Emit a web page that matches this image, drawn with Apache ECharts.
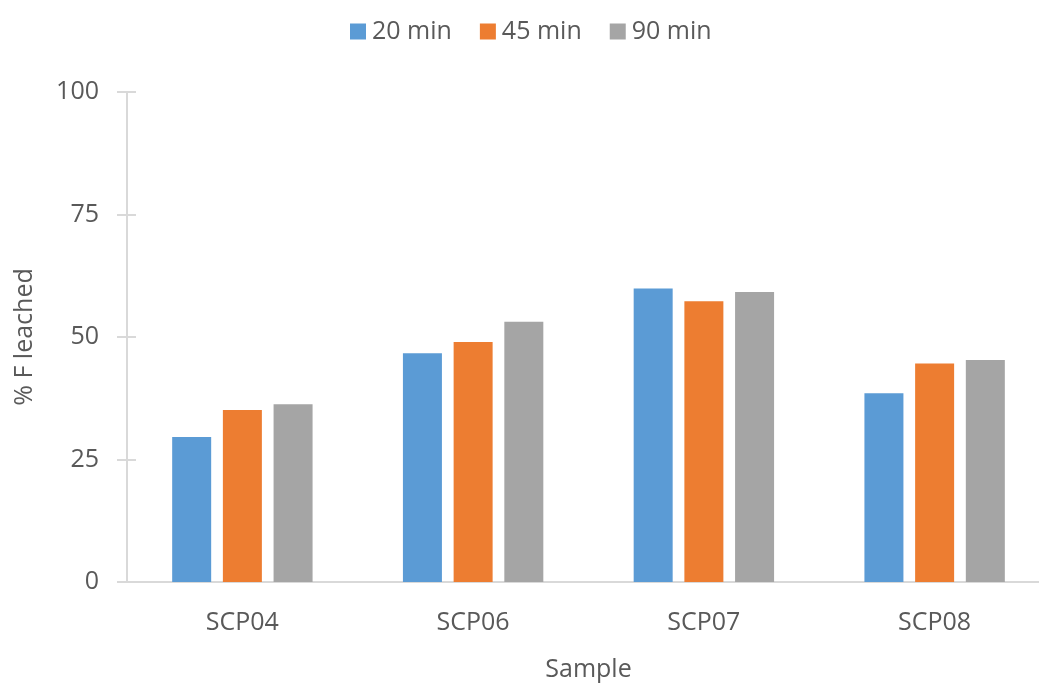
<!DOCTYPE html>
<html>
<head>
<meta charset="utf-8">
<script src="https://cdn.jsdelivr.net/npm/echarts@6/dist/echarts.min.js"></script>
<style>
html,body{margin:0;padding:0;background:#fff;}
#chart{width:1039px;height:685px;}
</style>
</head>
<body>
<div id="chart"></div>
<script>
const categories = ['SCP04', 'SCP06', 'SCP07', 'SCP08'];
const seriesNames = ['20 min', '45 min', '90 min'];
const values20 = [29.6, 46.7, 59.9, 38.5];
const values45 = [35.1, 49.0, 57.3, 44.6];
const values90 = [36.3, 53.1, 59.2, 45.3];
const yTicks = [0, 25, 50, 75, 100];

const colors = ['#5B9BD5', '#ED7D31', '#A5A5A5'];
const textColor = '#595959';
const axisColor = '#D9D9D9';
const font = 'Open Sans';

const chart = echarts.init(document.getElementById('chart'), null, {renderer: 'canvas'});
const seriesData = [values20, values45, values90];
chart.setOption({
  animation: false,
  color: colors,
  textStyle: {fontFamily: font},
  legend: {
    top: 14,
    left: 345,
    itemWidth: 16,
    itemHeight: 16,
    itemGap: 28,
    icon: 'rect',
    textStyle: {fontSize: 25, color: textColor, fontFamily: font, padding: [0, 0, 0, 1]},
    data: seriesNames
  },
  grid: {left: 127, width: 923, top: 92, height: 490, containLabel: false, outerBoundsMode: 'none'},
  xAxis: {
    type: 'category',
    data: categories,
    name: 'Sample',
    nameLocation: 'middle',
    nameGap: 75,
    nameTextStyle: {fontSize: 25, color: textColor, fontFamily: font},
    axisLine: {show: true, lineStyle: {color: axisColor, width: 2}},
    axisTick: {show: false},
    axisLabel: {fontSize: 25, color: textColor, fontFamily: font, margin: 28}
  },
  yAxis: [{
    type: 'value',
    min: yTicks[0],
    max: yTicks[yTicks.length - 1],
    interval: 25,
    name: '% F leached',
    nameLocation: 'middle',
    nameGap: 90,
    nameTextStyle: {fontSize: 25, color: textColor, fontFamily: font},
    axisLine: {show: true, lineStyle: {color: axisColor, width: 2}},
    axisTick: {show: true, length: 10, lineStyle: {color: axisColor, width: 2}},
    splitLine: {show: false},
    axisLabel: {fontSize: 25, color: textColor, fontFamily: font, margin: 28}
  }, {
    type: 'value',
    position: 'left',
    min: yTicks[0],
    max: yTicks[yTicks.length - 1],
    interval: 25,
    axisLine: {show: false},
    axisTick: {show: true, inside: true, length: 9, lineStyle: {color: axisColor, width: 2}},
    axisLabel: {show: false},
    splitLine: {show: false}
  }],
  series: seriesNames.map((n, i) => ({
    name: n,
    type: 'bar',
    data: seriesData[i],
    barWidth: 39,
    barGap: '30%',
    itemStyle: {color: colors[i]}
  }))
});
</script>
</body>
</html>
